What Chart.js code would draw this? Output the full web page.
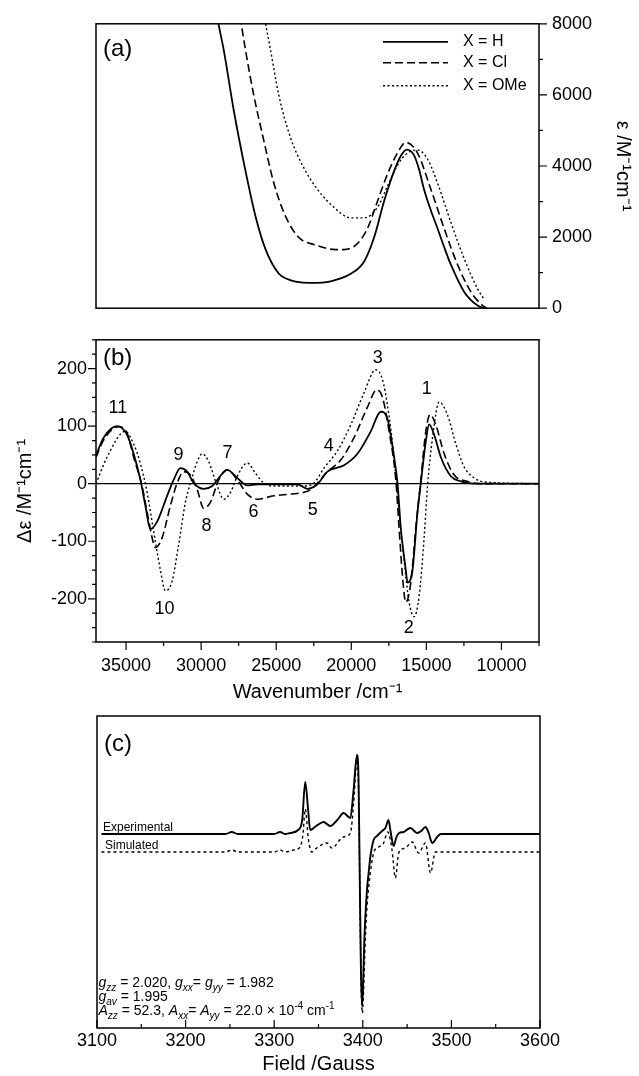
<!DOCTYPE html>
<html lang="en">
<head>
    <meta charset="UTF-8">
    <title>Absorption, CD and EPR spectra</title>
    <script src="https://cdn.jsdelivr.net/npm/chart.js@4"></script>
    <style>
        body { margin: 0; background: #fff; }
        .panel { position: absolute; left: 0; width: 639px; }
    </style>
</head>
<body>
    <div class="panel" style="top:0;height:332px"><canvas id="absChart"></canvas></div>
    <div class="panel" style="top:320px;height:385px"><canvas id="cdChart"></canvas></div>
    <div class="panel" style="top:700px;height:376px"><canvas id="eprChart"></canvas></div>

    <script>
        // ---- data ----
        const seriesNames = ['X = H', 'X = Cl', 'X = OMe'];

        // tick labels
        const epsTicks = [0, 2000, 4000, 6000, 8000];
        const cdTicks = [-200, -100, 0, 100, 200];
        const waveTicks = [35000, 30000, 25000, 20000, 15000, 10000];
        const fieldTicks = [3100, 3200, 3300, 3400, 3500, 3600];

        // (a) absorption, epsilon / M-1 cm-1
        const absWaveH = [29200, 28843, 28489, 27822, 27042, 26375, 25708, 24820, 24300, 23707, 22710, 21376, 20038, 19151, 18484, 17817, 17150, 16703, 16300, 15818, 15485, 15149, 14700, 14255, 13800, 13368, 12481, 11588, 11147];
        const absEpsH = [8870, 8000, 7254, 5555, 3855, 2581, 1656, 968, 830, 750, 713, 757, 968, 1307, 1987, 3007, 3855, 4281, 4460, 4300, 3900, 3330, 2750, 2242, 1700, 1223, 459, 76, 0];
        const absWaveCl = [27662, 27328, 27042, 26488, 25821, 25154, 24374, 23487, 22373, 21038, 20485, 19591, 18924, 18257, 17590, 16923, 16370, 15589, 14702, 13815, 12921, 12034, 11254, 10967];
        const absEpsCl = [8870, 8000, 7254, 5980, 4706, 3516, 2581, 1987, 1776, 1649, 1649, 1817, 2242, 3007, 3771, 4365, 4663, 4365, 3346, 2242, 1223, 459, 76, 0];
        const absWaveOMe = [26094, 25708, 25374, 24820, 24040, 23153, 22259, 21152, 20038, 19151, 18257, 17590, 16923, 16256, 15589, 14923, 14255, 13368, 12481, 11588, 11147];
        const absEpsOMe = [8870, 8000, 7254, 5980, 4790, 3942, 3346, 2836, 2540, 2540, 2836, 3432, 4026, 4365, 4451, 4197, 3516, 2413, 1394, 543, 247];

        // (b) CD, delta epsilon / M-1 cm-1
        const cdWaveH = [37000, 36493, 35599, 34932, 34492, 34045, 33712, 33378, 32931, 32264, 31824, 31377, 30930, 30490, 29823, 29263, 28822, 28262, 27595, 26928, 26261, 24927, 23593, 22926, 22259, 21592, 20485, 19591, 18704, 18037, 17590, 17150, 16923, 16703, 16370, 16256, 15923, 15589, 15369, 15036, 14816, 14482, 14035, 13368, 12701, 11814, 7500];
        const cdH = [49, 80, 100, 85, 52, 7, -38, -79, -66, -21, 7, 27, 21, 1, -9, -4, 10, 24, 10, -3, -1, -1, -1, -9, -1, 21, 32, 52, 91, 125, 113, 46, 1, -77, -150, -172, -150, -49, 1, 74, 103, 85, 46, 13, 4, 0, 0];
        const cdWaveCl = [37000, 36493, 35492, 34932, 34492, 33932, 33598, 33158, 33045, 32598, 32044, 31597, 31157, 30710, 30264, 29823, 29376, 28822, 28262, 27595, 26928, 26261, 25154, 24040, 23153, 22706, 22153, 21592, 20705, 19818, 18924, 18304, 17924, 17483, 17036, 16817, 16590, 16370, 16036, 15703, 15369, 15036, 14749, 14369, 13815, 13148, 12254, 11367, 7500];
        const cdCl = [46, 76, 99, 88, 46, -4, -49, -105, -111, -94, -38, 1, 21, 15, -10, -43, -32, 7, 24, 7, -18, -27, -21, -18, -15, -10, 4, 21, 41, 80, 133, 163, 150, 91, 7, -77, -161, -206, -172, -77, 7, 91, 120, 102, 52, 15, 4, 0, 0];
        const cdWaveOMe = [37000, 36266, 35046, 34492, 34045, 33598, 33158, 32711, 32378, 31931, 31491, 31044, 30710, 30264, 29930, 29490, 28929, 28489, 28042, 27595, 26928, 26375, 25821, 25261, 23153, 22486, 21819, 20925, 20038, 19151, 18371, 17924, 17590, 17150, 16817, 16483, 16150, 15816, 15482, 15149, 14923, 14589, 14148, 13588, 13035, 12481, 11814, 11147, 7500];
        const cdOMe = [0, 46, 91, 69, 35, -15, -83, -150, -186, -169, -105, -32, 1, 38, 52, 38, -4, -27, -15, 13, 36, 18, 1, -4, -4, 1, 27, 57, 102, 158, 198, 181, 136, 46, -49, -133, -206, -231, -195, -94, -4, 80, 142, 119, 69, 29, 10, 3, 0];

        // band numbers and where they sit (wavenumber, delta epsilon)
        const bandNames = ['1', '2', '3', '4', '5', '6', '7', '8', '9', '10', '11'];
        const bandWave = [14969, 16170, 18237, 21506, 22573, 26508, 28242, 29642, 31510, 32445, 35546];
        const bandCd = [164, -250, 219, 66, -45, -50, 53, -73, 50, -218, 131];

        // (c) EPR, field / Gauss, signal in arbitrary units
        const fieldExp = [3105, 3245, 3252, 3259, 3300, 3306.7, 3312, 3318, 3327, 3331.6, 3335, 3338.3, 3340.6, 3347.4, 3355.7, 3363.2, 3371.2, 3378.3, 3385.9, 3389.6, 3393.4, 3395.2, 3396.6, 3397.9, 3399.1, 3400.2, 3401.7, 3404.7, 3406.6, 3408.5, 3412.2, 3416, 3421.7, 3425.5, 3429, 3431.1, 3434.8, 3438, 3441, 3446, 3453.7, 3461.3, 3466, 3470.7, 3474.4, 3478.3, 3483.9, 3488, 3600];
        const signalExp = [0, 0, 2, 0, 0, 2, 0, 1, 4, 14, 52, 24, 4, 8, 12, 8, 14, 21, 16, 44, 79, 54, -46, -136, -172, -156, -106, -56, -39, -23, -6, -2, 3, 6, 14, 4, -12, -3, 1, 2, 6, 1, 3, 7, 1, -9, -3, 0, 0];
        const fieldSim = [3105, 3245, 3252, 3259, 3300, 3306.7, 3312, 3321.7, 3329.3, 3332.5, 3335, 3338.7, 3342.5, 3348, 3359.5, 3365, 3378, 3386, 3389.6, 3393.4, 3395.2, 3396.6, 3397.9, 3399.5, 3400.5, 3402.8, 3404.7, 3408.5, 3412.2, 3417.9, 3423.5, 3428.1, 3433, 3436.8, 3440.5, 3448, 3455.7, 3463, 3470.7, 3476.4, 3482, 3600];
        const signalSim = [-18, -18, -16, -18, -18, -16, -18, -16, -13, 0, 25, -6, -18, -14, -9, -14, -3, 1, 30, 74, 45, -50, -140, -179, -165, -106, -73, -39, -19, -13, -9, 2, -16, -44, -19, -14, -8, -19, -9, -39, -18, -18];

        // ---- helpers ----
        const FONT = "'Liberation Sans', Arial, Helvetica, sans-serif";

        function pairs(xs, ys) {
            return xs.map((x, i) => ({ x: x, y: ys[i] }));
        }

        function lineSet(label, xs, ys, style) {
            return Object.assign({
                label: label,
                data: pairs(xs, ys),
                borderColor: '#000',
                pointRadius: 0,
                fill: false,
                cubicInterpolationMode: 'monotone'
            }, style);
        }

        // put ticks exactly at the given values
        function fixedTicks(values) {
            return scale => { scale.ticks = values.map(v => ({ value: v })); };
        }

        const solidStyle = { borderWidth: 1.8 };
        const dashStyle = { borderWidth: 1.6, borderDash: [8, 4] };
        const dotStyle = { borderWidth: 1.4, borderDash: [2, 2.5] };

        function drawTicks(chart, t) {
            const ctx = chart.ctx;
            const a = chart.chartArea;
            const scale = chart.scales[t.scale];
            ctx.lineWidth = 1.2;
            ctx.beginPath();
            for (let v = t.from; v <= t.to + 1e-6; v += t.step) {
                const major = Math.abs(v / t.major - Math.round(v / t.major)) < 1e-6;
                const len = (major ? 8 : 4) * t.dir;
                const p = scale.getPixelForValue(v);
                if (t.edge === 'bottom') { ctx.moveTo(p, a.bottom); ctx.lineTo(p, a.bottom + len); }
                if (t.edge === 'left') { ctx.moveTo(a.left, p); ctx.lineTo(a.left - len, p); }
                if (t.edge === 'right') { ctx.moveTo(a.right, p); ctx.lineTo(a.right + len, p); }
            }
            ctx.stroke();
        }

        // frame, ticks and extra text for each panel
        function decor(cfg) {
            return {
                id: 'decor',
                afterDraw(chart) {
                    const ctx = chart.ctx;
                    const a = chart.chartArea;
                    ctx.save();
                    ctx.strokeStyle = '#000';
                    ctx.fillStyle = '#000';
                    ctx.lineWidth = 1.5;
                    ctx.strokeRect(a.left, a.top, a.right - a.left, a.bottom - a.top);
                    cfg.ticks.forEach(t => drawTicks(chart, t));
                    ctx.font = '24px ' + FONT;
                    ctx.textAlign = 'left';
                    ctx.textBaseline = 'alphabetic';
                    ctx.fillText(cfg.tag, a.left + 7, a.top + cfg.tagY);
                    if (cfg.extra) cfg.extra(chart, ctx, a);
                    ctx.restore();
                }
            };
        }

        // text with italic symbols, subscripts and superscripts
        function drawRich(ctx, parts, x, y, size) {
            parts.forEach(([txt, kind]) => {
                let dy = 0;
                ctx.font = size + 'px ' + FONT;
                if (kind === 'i') ctx.font = 'italic ' + size + 'px ' + FONT;
                if (kind === 'sub') { ctx.font = 'italic ' + Math.round(size * 0.7) + 'px ' + FONT; dy = size * 0.3; }
                if (kind === 'sup') { ctx.font = Math.round(size * 0.7) + 'px ' + FONT; dy = -size * 0.4; }
                ctx.fillText(txt, x, y + dy);
                x += ctx.measureText(txt).width;
            });
        }

        const plain = v => String(v);
        const baseOptions = {
            responsive: true,
            maintainAspectRatio: false,
            animation: false,
            plugins: { legend: { display: false }, tooltip: { enabled: false } }
        };

        // ---- (a) absorption ----
        new Chart(document.getElementById('absChart'), {
            type: 'line',
            data: {
                datasets: [
                    lineSet(seriesNames[0], absWaveH, absEpsH, solidStyle),
                    lineSet(seriesNames[1], absWaveCl, absEpsCl, dashStyle),
                    lineSet(seriesNames[2], absWaveOMe, absEpsOMe, dotStyle)
                ]
            },
            options: Object.assign({}, baseOptions, {
                layout: { padding: { left: 96, right: 0, top: 14, bottom: 4 } },
                scales: {
                    x: { type: 'linear', min: 7500, max: 37000, reverse: true, display: false },
                    y: {
                        type: 'linear', position: 'right', min: 0, max: 8000,
                        afterFit: s => { s.width = 100; },
                        afterBuildTicks: fixedTicks(epsTicks),
                        grid: { display: false, drawTicks: false },
                        border: { display: false },
                        ticks: { padding: 13, color: '#000', font: { family: FONT, size: 18 }, callback: plain },
                        title: { display: true, text: 'ε /M⁻¹cm⁻¹', color: '#000', font: { family: FONT, size: 20 }, padding: { top: 4, bottom: 0 } }
                    }
                }
            }),
            plugins: [decor({
                tag: '(a)', tagY: 32,
                ticks: [{ scale: 'y', edge: 'right', from: 0, to: 8000, step: 1000, major: 2000, dir: 1 }],
                extra(chart, ctx, a) {
                    const styles = [solidStyle, dashStyle, dotStyle];
                    const rows = [18, 39, 62];
                    seriesNames.forEach((name, i) => {
                        ctx.lineWidth = styles[i].borderWidth;
                        ctx.setLineDash(styles[i].borderDash || []);
                        ctx.beginPath();
                        ctx.moveTo(a.right - 156, a.top + rows[i]);
                        ctx.lineTo(a.right - 91, a.top + rows[i]);
                        ctx.stroke();
                        ctx.setLineDash([]);
                        ctx.font = '16px ' + FONT;
                        ctx.textBaseline = 'middle';
                        ctx.fillText(name, a.right - 76, a.top + rows[i]);
                    });
                }
            })]
        });

        // ---- (b) CD ----
        new Chart(document.getElementById('cdChart'), {
            type: 'line',
            data: {
                datasets: [
                    lineSet(seriesNames[0], cdWaveH, cdH, solidStyle),
                    lineSet(seriesNames[1], cdWaveCl, cdCl, dashStyle),
                    lineSet(seriesNames[2], cdWaveOMe, cdOMe, dotStyle)
                ]
            },
            options: Object.assign({}, baseOptions, {
                layout: { padding: { left: 0, right: 100, top: 8, bottom: 0 } },
                scales: {
                    x: {
                        type: 'linear', min: 7500, max: 37000, reverse: true,
                        afterFit: s => { s.height = 63; },
                        afterBuildTicks: fixedTicks(waveTicks),
                        grid: { display: false, drawTicks: false },
                        border: { display: false },
                        ticks: { autoSkip: false, maxRotation: 0, padding: 13, color: '#000', font: { family: FONT, size: 18 }, callback: plain },
                        title: { display: true, text: 'Wavenumber /cm⁻¹', color: '#000', font: { family: FONT, size: 20 }, padding: { top: 0, bottom: 1 } }
                    },
                    y: {
                        type: 'linear', min: -275, max: 250,
                        afterFit: s => { s.width = 96; },
                        afterBuildTicks: fixedTicks(cdTicks),
                        grid: { display: false, drawTicks: false },
                        border: { display: false },
                        ticks: { padding: 9, color: '#000', font: { family: FONT, size: 18 }, callback: plain },
                        title: { display: true, text: 'Δε /M⁻¹cm⁻¹', color: '#000', font: { family: FONT, size: 20 }, padding: { top: 13, bottom: 0 } }
                    }
                }
            }),
            plugins: [decor({
                tag: '(b)', tagY: 25,
                ticks: [
                    { scale: 'y', edge: 'left', from: -275, to: 250, step: 25, major: 100, dir: 1 },
                    { scale: 'x', edge: 'bottom', from: 7500, to: 37000, step: 2500, major: 5000, dir: 1 }
                ],
                extra(chart, ctx, a) {
                    const xs = chart.scales.x, ys = chart.scales.y;
                    const y0 = ys.getPixelForValue(0);
                    ctx.lineWidth = 1.3;
                    ctx.beginPath();
                    ctx.moveTo(a.left, y0);
                    ctx.lineTo(a.right, y0);
                    ctx.stroke();
                    ctx.font = '18px ' + FONT;
                    ctx.textAlign = 'center';
                    ctx.textBaseline = 'middle';
                    bandNames.forEach((n, i) => {
                        ctx.fillText(n, xs.getPixelForValue(bandWave[i]), ys.getPixelForValue(bandCd[i]));
                    });
                }
            })]
        });

        // ---- (c) EPR ----
        new Chart(document.getElementById('eprChart'), {
            type: 'line',
            data: {
                datasets: [
                    lineSet('Experimental', fieldExp, signalExp, { borderWidth: 1.9 }),
                    lineSet('Simulated', fieldSim, signalSim, { borderWidth: 1.4, borderDash: [3, 3] })
                ]
            },
            options: Object.assign({}, baseOptions, {
                layout: { padding: { left: 97, right: 99, top: 16, bottom: 0 } },
                scales: {
                    x: {
                        type: 'linear', min: 3100, max: 3600,
                        afterFit: s => { s.height = 48; },
                        afterBuildTicks: fixedTicks(fieldTicks),
                        grid: { display: false, drawTicks: false },
                        border: { display: false },
                        ticks: { autoSkip: false, maxRotation: 0, padding: 2, color: '#000', font: { family: FONT, size: 18 }, callback: plain },
                        title: { display: true, text: 'Field /Gauss', color: '#000', font: { family: FONT, size: 20 }, padding: { top: 0, bottom: 0 } }
                    },
                    y: { type: 'linear', min: -194, max: 118, display: false }
                }
            }),
            plugins: [decor({
                tag: '(c)', tagY: 35,
                ticks: [{ scale: 'x', edge: 'bottom', from: 3100, to: 3600, step: 50, major: 100, dir: -1 }],
                extra(chart, ctx, a) {
                    const ys = chart.scales.y;
                    ctx.font = '12px ' + FONT;
                    ctx.fillText('Experimental', a.left + 6, ys.getPixelForValue(0) - 3);
                    ctx.fillText('Simulated', a.left + 8, ys.getPixelForValue(-18) - 3);
                    const size = 14;
                    const x0 = a.left + 1.5;
                    drawRich(ctx, [['g', 'i'], ['zz', 'sub'], [' = 2.020, ', 'n'], ['g', 'i'], ['xx', 'sub'], ['= ', 'n'], ['g', 'i'], ['yy', 'sub'], [' = 1.982', 'n']], x0, a.bottom - 41, size);
                    drawRich(ctx, [['g', 'i'], ['av', 'sub'], [' = 1.995', 'n']], x0, a.bottom - 27, size);
                    drawRich(ctx, [['A', 'i'], ['zz', 'sub'], [' = 52.3, ', 'n'], ['A', 'i'], ['xx', 'sub'], ['= ', 'n'], ['A', 'i'], ['yy', 'sub'], [' = 22.0 × 10', 'n'], ['-4', 'sup'], [' cm', 'n'], ['-1', 'sup']], x0, a.bottom - 13, size);
                }
            })]
        });
    </script>
</body>
</html>
